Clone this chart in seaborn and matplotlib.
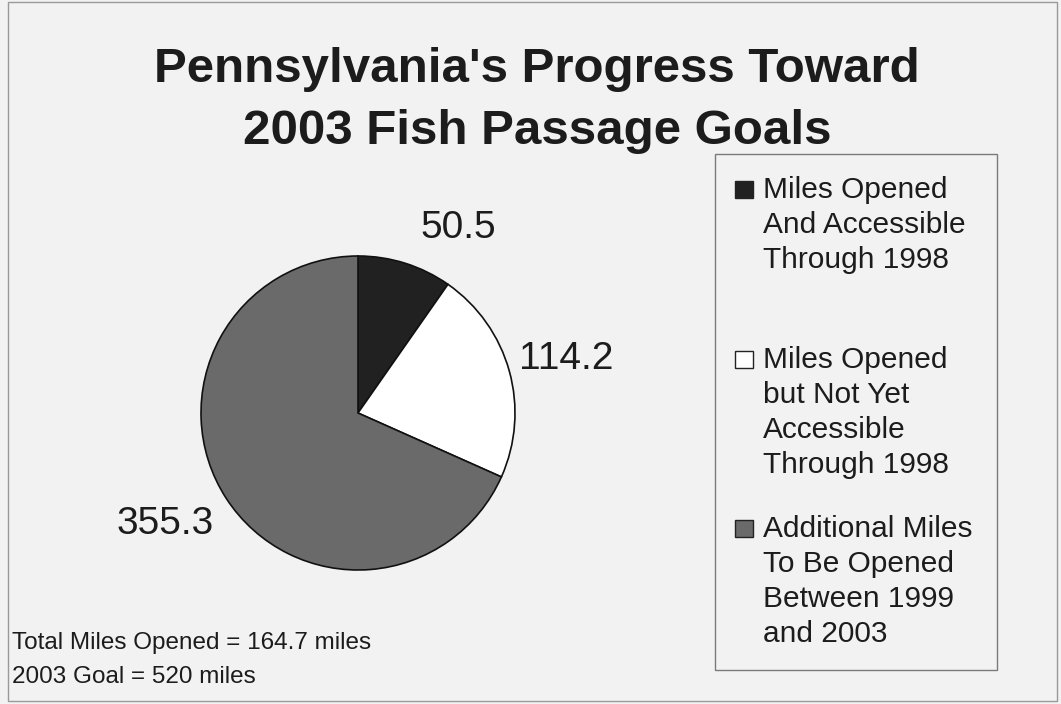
import numpy as np
import matplotlib
matplotlib.use("Agg")
import matplotlib.pyplot as plt
from matplotlib.patches import Rectangle
import seaborn as sns

# Miles of fish passage (total goal: 520 miles)
categories = [
    "Miles Opened\nAnd Accessible\nThrough 1998",
    "Miles Opened\nbut Not Yet\nAccessible\nThrough 1998",
    "Additional Miles\nTo Be Opened\nBetween 1999\nand 2003",
]
miles = [50.5, 114.2, 355.3]
total_opened = 164.7
goal = 520

colors = ["#212121", "#ffffff", "#6a6a6a"]
bg = "#f2f2f2"
ink = "#1c1c1c"

sns.set_theme(style="white")
plt.rcParams["font.family"] = ["Liberation Sans", "DejaVu Sans"]

W, H = 1061, 704
fig = plt.figure(figsize=(W / 100, H / 100), dpi=100, facecolor=bg)


def fx(px):
    return px / W


def fy(py):
    return 1 - py / H


# outer frame
fig.patches.append(Rectangle((fx(8), fy(701)), (W - 12) / W, (H - 5) / H,
                             transform=fig.transFigure, fill=False,
                             edgecolor="#9a9a9a", linewidth=1.0))

# title (two lines, baseline aligned)
fig.text(fx(537), fy(82), "Pennsylvania's Progress Toward",
         ha="center", va="baseline", fontsize=35.5, fontweight="bold", color=ink)
fig.text(fx(537), fy(144), "2003 Fish Passage Goals",
         ha="center", va="baseline", fontsize=35.5, fontweight="bold", color=ink)

# pie
cx, cy, r = 358, 413, 157
ax = fig.add_axes([fx(cx - r), (H - cy - r) / H, 2 * r / W, 2 * r / H])
ax.set_facecolor("none")
wedges, _ = ax.pie(miles, colors=colors, startangle=90, counterclock=False,
                   wedgeprops=dict(edgecolor="#111111", linewidth=1.2))
ax.set_xlim(-1, 1)
ax.set_ylim(-1, 1)
ax.set_aspect("equal")
ax.axis("off")

# value labels outside each wedge: (radial distance, angular shift in degrees)
label_place = [(1.34, -11), (1.37, -1), (1.42, -3)]
for w, v, (dist, dang) in zip(wedges, miles, label_place):
    ang = np.deg2rad((w.theta1 + w.theta2) / 2 + dang)
    ax.text(dist * np.cos(ang), dist * np.sin(ang), f"{v}",
            ha="center", va="center", fontsize=28, color=ink,
            clip_on=False)

# legend box
fig.patches.append(Rectangle((fx(715), fy(670)), (997 - 715) / W, (670 - 154) / H,
                             transform=fig.transFigure, facecolor=bg,
                             edgecolor="#7a7a7a", linewidth=1.0))
first_baselines = [198, 368, 537]
line_gap = 34.9
for label, col, base in zip(categories, colors, first_baselines):
    fig.patches.append(Rectangle((fx(735), fy(base)), 18 / W, 17 / H,
                                 transform=fig.transFigure, facecolor=col,
                                 edgecolor="#222222", linewidth=1.0))
    for i, line in enumerate(label.split("\n")):
        fig.text(fx(763), fy(base + i * line_gap), line,
                 ha="left", va="baseline", fontsize=21.5, color=ink)

# footnotes
fig.text(fx(12), fy(649), f"Total Miles Opened = {total_opened} miles",
         ha="left", va="baseline", fontsize=17.5, color=ink)
fig.text(fx(12), fy(683), f"2003 Goal = {goal} miles",
         ha="left", va="baseline", fontsize=17.5, color=ink)

fig.savefig("out.png", dpi=100, facecolor=bg)
